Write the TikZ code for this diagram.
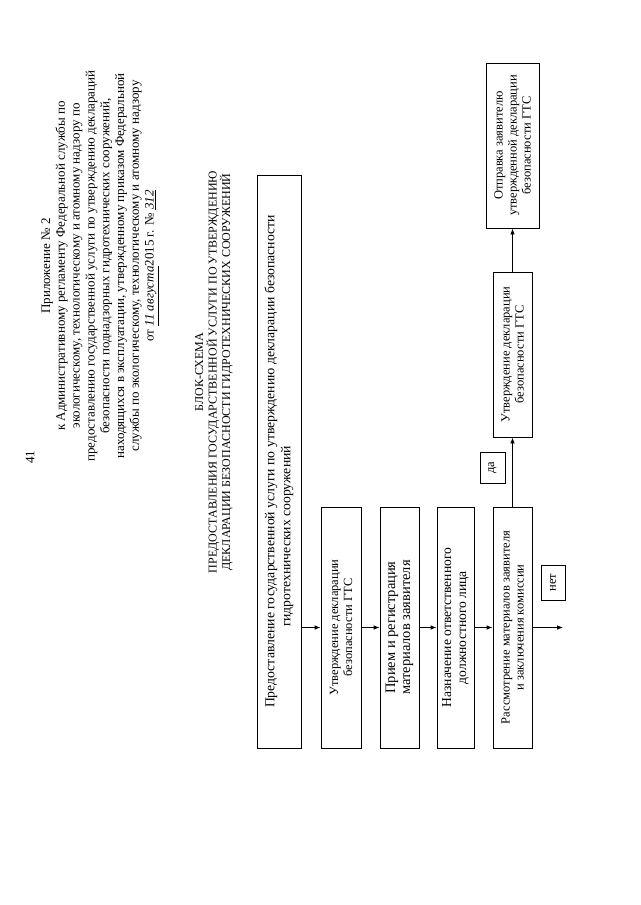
\documentclass[tikz,border=0pt]{standalone}
\usepackage{fontspec}
\setmainfont{Liberation Serif}
\usetikzlibrary{arrows.meta}

\begin{document}
\begin{tikzpicture}[x=1pt,y=-1pt,box/.style={draw,line width=0.8pt,rotate=90,align=center,inner sep=1pt,font=\fontsize{12.5}{14}\selectfont},tag/.style={box,font=\fontsize{12.5}{13}\selectfont},hdr/.style={rotate=90,align=center,font=\fontsize{13}{14.8}\selectfont},arr/.style={-{Latex[length=6pt,width=4.5pt]},line width=0.8pt}]
\useasboundingbox (0,0) rectangle (640,905);
\node[hdr](page) at (30,457){41};
\node[hdr](annex) at (100,266){Приложение № 2\\к Административному регламенту Федеральной службы по\\экологическому, технологическому и атомному надзору по\\предоставлению государственной услуги по утверждению деклараций\\безопасности поднадзорных гидротехнических сооружений,\\находящихся в эксплуатации, утвержденному приказом Федеральной\\службы по экологическому, технологическому и атомному надзору\\от \underline{\textit{11 августа}}2015 г. № \underline{\textit{312}}};
\node[hdr,font=\fontsize{12}{13.5}\selectfont](title) at (214,372){БЛОК-СХЕМА\\ПРЕДОСТАВЛЕНИЯ ГОСУДАРСТВЕННОЙ УСЛУГИ ПО УТВЕРЖДЕНИЮ\\ДЕКЛАРАЦИИ БЕЗОПАСНОСТИ ГИДРОТЕХНИЧЕСКИХ СООРУЖЕНИЙ};
\node[box,font=\fontsize{13.7}{16}\selectfont,minimum width=573,minimum height=44](start) at (279,461.5){Предоставление государственной услуги по утверждению декларации безопасности\\\hspace*{-150pt}гидротехнических сооружений};
\node[box,minimum width=241,minimum height=40](approve) at (341,627.5){Утверждение декларации\\безопасности ГТС};
\node[box,font=\fontsize{14.5}{15}\selectfont,minimum width=241,minimum height=39](accept) at (399.5,627.5){Прием и регистрация\\материалов заявителя};
\node[box,font=\fontsize{13.6}{15}\selectfont,minimum width=241,minimum height=37](assign) at (455.5,627.5){Назначение ответственного\\должностного лица};
\node[box,minimum width=241,minimum height=39](review) at (512.5,627.5){Рассмотрение материалов заявителя\\и заключения комиссии};
\node[box,minimum width=165,minimum height=39](decl) at (512.5,354.5){Утверждение декларации\\безопасности ГТС};
\node[box,minimum width=165,minimum height=53](send) at (512.5,145.5){Отправка заявителю\\утвержденной декларации\\безопасности ГТС};
\node[tag,minimum width=31,minimum height=25](yes) at (492.5,467.5){да};
\node[tag,minimum width=35,minimum height=24](no) at (553,582.5){нет};
\coordinate (refuse) at (563,627.5);
\draw[arr](start.south |- approve)--(approve.north);
\draw[arr](approve.south)--(accept.north);
\draw[arr](accept.south)--(assign.north);
\draw[arr](assign.south)--(review.north);
\draw[arr](review.south)--(refuse);
\draw[arr](review.east)--(decl.west);
\draw[arr](decl.east)--(send.west);
\end{tikzpicture}
\end{document}
